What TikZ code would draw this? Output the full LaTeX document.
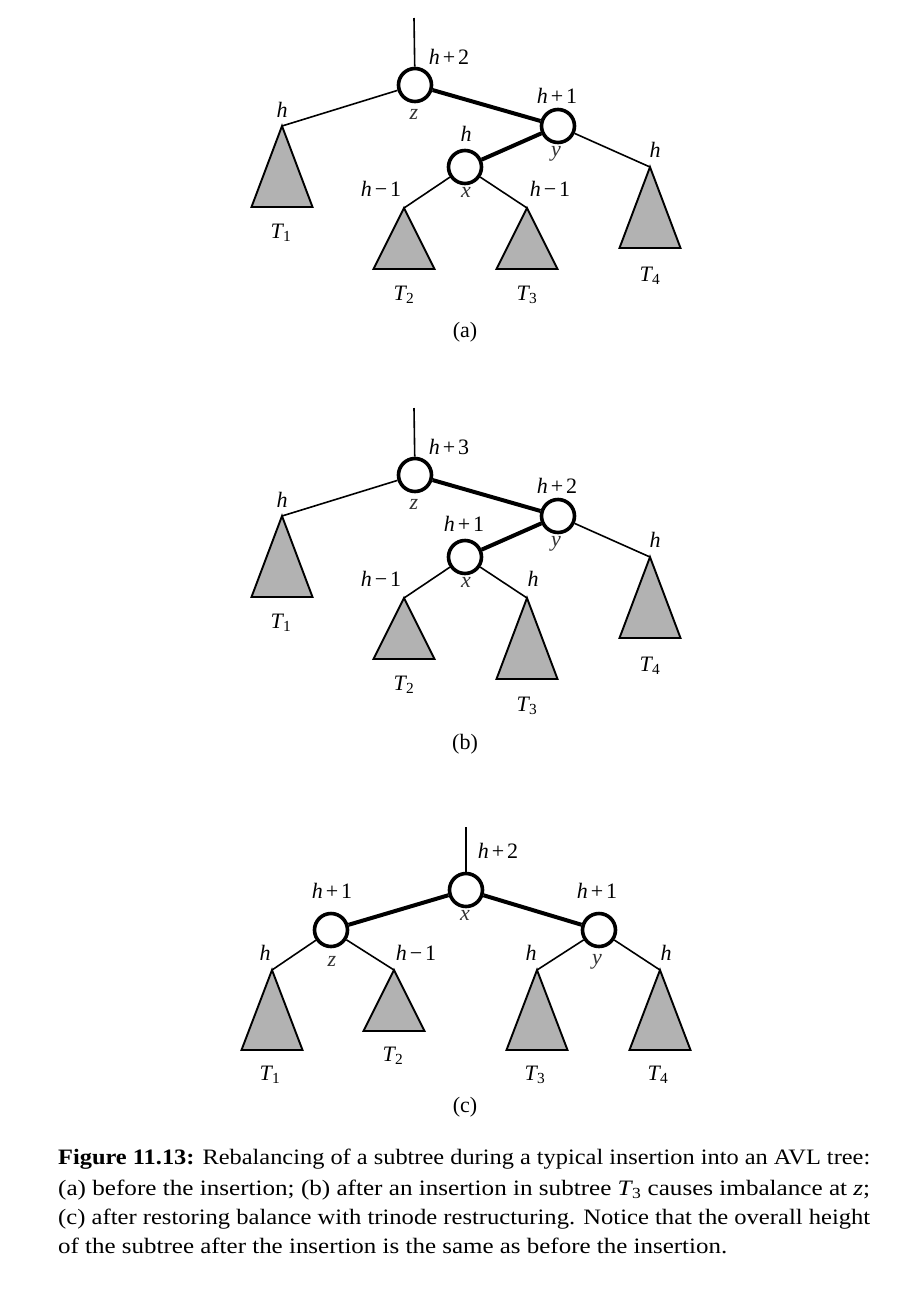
\documentclass[tikz,border=0pt]{standalone}
\usepackage{fontspec}
\usepackage{graphicx}
\setmainfont{Liberation Serif}
\newcommand\vi[1]{\textit{#1}}
\newcommand\pl{\kern3pt+\kern3pt}
\newcommand\mn{\kern3pt−\kern3pt}
\newcommand\TT[1]{\textit{T}\kern-1pt\textsubscript{#1}}
\newcommand\subtree[4]{\coordinate (#1) at (#2,#3); \draw[tri] (#1) -- ++(-30.5,#4) -- ++(61,0) -- cycle;}
\newcommand\lab[4]{\node[lab] (#1) at (#2,#3) {#4};}
\begin{document}
\begin{tikzpicture}[x=1pt,y=-1pt,
  vtx/.style={circle,draw,line width=3.6pt,minimum size=33pt,inner sep=0pt,fill=white},
  lite/.style={line width=1.6pt},
  heavy/.style={line width=4pt},
  tri/.style={draw,line width=1.9pt,fill=black!30,line join=miter},
  lab/.style={anchor=base,inner sep=0pt,font=\fontsize{22}{26}\selectfont},
  vlab/.style={lab,text=black!80},
  captext/.style={anchor=base west,inner sep=0pt,font=\fontsize{22}{26}\selectfont},
]
\useasboundingbox (0,0) rectangle (914,1294);

% ---------- (a) and (b) ----------
\foreach \dy/\s in {0/a,390/b}{
\begin{scope}[shift={(0,\dy)}]
  \coordinate (top\s) at (414,18);
  \node[vtx] (z\s) at (415,85) {};
  \node[vtx] (y\s) at (558,126) {};
  \node[vtx] (x\s) at (465,167) {};
  \subtree{ta\s}{282}{126}{81}
  \subtree{tb\s}{404}{208}{61}
  \subtree{td\s}{650}{167}{81}
  \draw[lite] (top\s) -- (z\s);
  \draw[lite] (z\s) -- (ta\s);
  \draw[heavy] (z\s) -- (y\s);
  \draw[heavy] (y\s) -- (x\s);
  \draw[lite] (y\s) -- (td\s);
  \draw[lite] (x\s) -- (tb\s);
  \node[vlab] (lz\s) at (414,119) {\vi{z}};
  \node[vlab] (ly\s) at (556,156) {\vi{y}};
  \node[vlab] (lx\s) at (466,197) {\vi{x}};
  \lab{lta\s}{282}{117}{\vi{h}}
  \lab{Tone\s}{281}{238}{\TT{1}}
  \lab{lhb\s}{381}{196}{\vi{h}\mn1}
  \lab{Ttwo\s}{404}{300}{\TT{2}}
  \lab{ltd\s}{655}{157}{\vi{h}}
  \lab{Tfour\s}{650}{281}{\TT{4}}
\end{scope}}

% (a) specific
\subtree{tca}{527}{208}{61}
\draw[lite] (xa) -- (tca);
\lab{rza}{449}{64}{\vi{h}\pl2}
\lab{rya}{557}{103}{\vi{h}\pl1}
\lab{rxa}{466}{141}{\vi{h}}
\lab{lhca}{550}{196}{\vi{h}\mn1}
\lab{Tthreea}{527}{300}{\TT{3}}
\lab{capa}{465}{337}{(a)}

% (b) specific
\subtree{tcb}{527}{598}{81}
\draw[lite] (xb) -- (tcb);
\lab{rzb}{449}{454}{\vi{h}\pl3}
\lab{ryb}{557}{493}{\vi{h}\pl2}
\lab{rxb}{464}{531}{\vi{h}\pl1}
\lab{lhcb}{533}{586}{\vi{h}}
\lab{Tthreeb}{527}{711}{\TT{3}}
\lab{capb}{465}{749}{(b)}

% ---------- (c) ----------
\coordinate (topc) at (466,827);
\node[vtx] (xc) at (466,890) {};
\node[vtx] (zc) at (331,930) {};
\node[vtx] (yc) at (599,930) {};
\subtree{tac}{272}{970}{80}
\subtree{tbc}{394}{970}{61}
\subtree{tcc}{537}{970}{80}
\subtree{tdc}{660}{970}{80}
\draw[lite] (topc) -- (xc);
\draw[heavy] (xc) -- (zc);
\draw[heavy] (xc) -- (yc);
\draw[lite] (zc) -- (tac);
\draw[lite] (zc) -- (tbc);
\draw[lite] (yc) -- (tcc);
\draw[lite] (yc) -- (tdc);
\lab{rxc}{498}{858}{\vi{h}\pl2}
\node[vlab] (lxc) at (465,920) {\vi{x}};
\lab{rzc}{332}{898}{\vi{h}\pl1}
\lab{ryc}{597}{898}{\vi{h}\pl1}
\node[vlab] (lzc) at (332,966) {\vi{z}};
\node[vlab] (lyc) at (597,964) {\vi{y}};
\lab{lhac}{265}{960}{\vi{h}}
\lab{lhbc}{416}{960}{\vi{h}\mn1}
\lab{lhcc}{531}{960}{\vi{h}}
\lab{lhdc}{666}{960}{\vi{h}}
\lab{Tonec}{270}{1080}{\TT{1}}
\lab{Ttwoc}{393}{1061}{\TT{2}}
\lab{Tthreec}{535}{1080}{\TT{3}}
\lab{Tfourc}{658}{1080}{\TT{4}}
\lab{capc}{465}{1112}{(c)}

% ---------- caption ----------
\node[captext] (cap1) at (58,1164) {\resizebox{812pt}{\height}{\textbf{Figure 11.13:} Rebalancing of a subtree during a typical insertion into an AVL tree:}};
\node[captext] (cap2) at (58,1195) {\resizebox{812pt}{\height}{(a) before the insertion; (b) after an insertion in subtree \TT{3} causes imbalance at \vi{z};}};
\node[captext] (cap3) at (58,1224) {\resizebox{812pt}{\height}{(c) after restoring balance with trinode restructuring. Notice that the overall height}};
\node[captext] (cap4) at (58,1253) {\resizebox{669pt}{\height}{of the subtree after the insertion is the same as before the insertion.}};
\end{tikzpicture}
\end{document}
